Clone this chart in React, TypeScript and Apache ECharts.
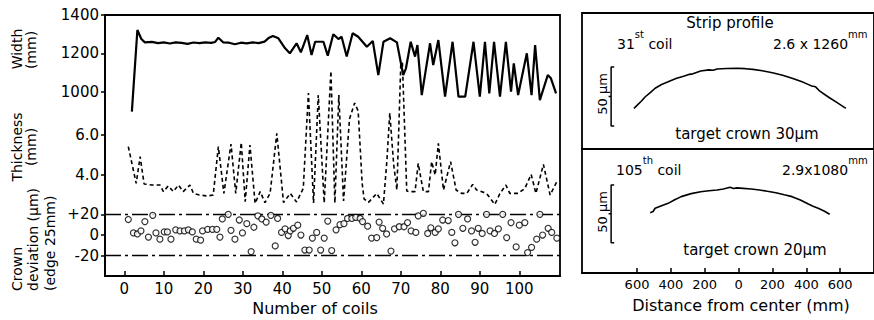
import React, { useEffect, useRef } from "react";
import * as echarts from "echarts";

// ---- Data ----
// Width (mm) vs coil number
const widthData: [number, number][] = [
  [1.9, 898], [3.3, 1322], [4.3, 1275], [5.2, 1258], [7, 1260], [8.5, 1254], [10, 1258], [11.5, 1252],
  [13, 1258], [14.5, 1255], [16, 1250], [17.5, 1257], [19, 1254], [20.5, 1258], [22, 1255], [23, 1260],
  [23.8, 1282], [25, 1258], [26.5, 1256], [28, 1248], [29.5, 1256], [31, 1253], [32.5, 1258], [34, 1254],
  [35.5, 1262], [36.5, 1280], [37.6, 1291], [39, 1279], [40.7, 1227], [41.9, 1201], [43.6, 1253], [44.7, 1206],
  [46.3, 1296], [47.4, 1192], [48.3, 1261], [50.4, 1261], [51.5, 1189], [52.9, 1300], [54.2, 1275], [55, 1287],
  [56.3, 1184], [57.8, 1305], [59.2, 1287], [61.4, 1235], [62.9, 1265], [64.3, 1088], [65.6, 1261], [67.3, 1279],
  [69, 1258], [70.6, 1088], [71.3, 1123], [72.5, 1261], [73.6, 1184], [74.2, 1244], [75.3, 984], [77.4, 1253],
  [78.2, 1140], [79.5, 1270], [81.2, 976], [83.1, 1261], [84.6, 976], [86.3, 976], [88.4, 1261], [90, 976],
  [91.3, 1261], [92.4, 993], [93.6, 1261], [95.1, 976], [96.6, 1261], [97.9, 1002], [98.6, 1149], [99.7, 984],
  [101.9, 1201], [103.1, 984], [104, 1244], [105.2, 958], [107.2, 1088], [108, 1071], [109.3, 993],
];

// Thickness (mm) vs coil number
const thicknessData: [number, number][] = [
  [1.0, 5.42], [3.0, 3.58], [4.0, 4.92], [5.0, 3.55], [7, 3.5], [9, 3.5], [9.9, 3.17], [11.1, 3.45],
  [12.4, 3.17], [13.7, 3.5], [14.9, 3.17], [16.6, 3.5], [17.5, 3.08], [19, 3.0], [21, 2.95], [22.5, 3.0],
  [23.8, 5.42], [25.2, 3.08], [27, 5.55], [28.2, 3.08], [29.6, 5.62], [30.6, 2.67], [31.8, 5.5], [33.1, 2.58],
  [34.4, 3.17], [35.6, 2.62], [36.9, 3.08], [38.6, 6.08], [40.3, 2.62], [42, 3.08], [43.6, 2.65], [45.3, 3.33],
  [46.6, 8.1], [47.9, 2.6], [49.1, 8.0], [50.6, 2.6], [52.3, 9.2], [53.3, 2.6], [54.3, 8.0], [55.5, 2.7],
  [57, 6.8], [58.3, 7.6], [59.2, 7.2], [60.2, 3.6], [60.7, 2.8], [61.8, 2.63], [63.9, 3.08], [65.6, 2.55],
  [66.5, 4.8], [67.2, 7.1], [68.2, 4.5], [69, 3.25], [70, 9.6], [70.4, 9.6], [71.5, 3.2], [72.1, 3.17],
  [73.6, 3.17], [74.4, 4.58], [75.7, 3.17], [77, 3.17], [77.8, 4.67], [78.7, 4.0], [79.5, 5.58], [80.8, 3.25],
  [82.6, 4.67], [84, 3.25], [85.4, 3.08], [86.7, 3.08], [88.2, 3.53], [89.2, 3.25], [91.7, 3.08], [93.8, 2.53],
  [95.1, 3.08], [96.6, 3.5], [97.6, 3.08], [99.7, 3.08], [101.4, 3.33], [103, 4.03], [104.2, 3.08], [106.1, 4.53],
  [107.8, 3.0], [109.5, 3.67],
];

// Crown deviation (µm) vs coil number
const crownData: [number, number][] = [
  [1.0, 15], [2.3, 2], [3.3, 1], [4.2, 4], [5.2, 13], [6.1, -2], [7.2, 19], [8.0, 2], [9.0, -4], [10.1, 3],
  [10.9, 3], [11.8, -4], [13.0, 5], [14.1, 4], [15.2, 4], [16.2, 5], [17.2, 3], [18.2, -4], [19.3, -5], [19.8, 4],
  [21.1, 5.5], [22.3, 5.5], [23.4, 5.5], [24.2, -2], [24.8, 15.5], [26.3, 20], [27.0, 4.5], [28.0, -4], [29.1, 14.5],
  [29.9, 2], [31.0, 11], [32.1, -16], [32.8, 7.5], [33.8, 18.5], [34.8, 15.5], [35.9, 12.5], [37.1, 19], [38.2, -10.5],
  [38.8, 16], [39.8, 2.5], [40.7, 6], [41.5, -0.5], [42.0, 4], [42.8, 6.5], [43.9, 9.5], [44.7, 0], [45.7, -14.5],
  [46.8, -14.5], [47.6, -3], [48.7, 2.5], [49.7, -14.5], [50.6, -3], [51.5, 13.5], [52.5, -15], [53.6, 5], [54.6, 10],
  [55.6, 11], [56.5, 16], [57.6, 16], [58.6, 17], [59.7, 16], [60.3, 13], [61.6, 8.5], [62.6, -3], [63.9, -2.5],
  [64.5, 12.5], [65.4, 6.5], [66.4, 1], [67.5, -15.5], [68.4, 6], [69.6, 8], [70.8, 8], [71.7, 12], [72.6, 4],
  [73.8, 2.5], [74.4, 18.5], [75.7, 21], [76.8, 1.5], [77.6, 7], [78.7, 2.5], [79.5, 6], [80.6, 14.5], [82.0, 14],
  [82.9, 2.5], [83.7, -7.5], [84.6, 20], [85.7, 6.5], [86.9, 15.5], [87.9, 4], [88.8, -7], [89.6, 6.5], [90.6, 1.5],
  [91.7, 20], [92.6, 4], [93.7, 1.5], [94.7, 6], [95.8, 20], [96.8, -2.5], [97.9, 12], [99.2, -11.5], [100, 9.5],
  [101.4, 12], [102.1, -17], [103.1, -12], [104.4, -4], [105.2, 20], [105.9, 0], [107.3, 6.5], [108.2, 2.5], [109.5, -3],
];

// Strip profiles: distance from center (mm), profile height (µm)
const profile31: [number, number][] = [
  [-618, 15], [-600, 17.5], [-575, 21], [-551, 24.8], [-520, 28.5], [-493, 32], [-455, 35.2], [-416, 37.5],
  [-370, 40.2], [-320, 42.4], [-290, 43.8], [-270, 44.2], [-224, 46.6], [-175, 47.6], [-150, 47.3], [-127, 48.3],
  [-70, 48.8], [-12, 48.9], [40, 48.6], [85, 48], [140, 46.8], [200, 45.2], [260, 43], [316, 40.4],
  [375, 37.5], [410, 35.3], [432, 33.9], [455, 33.2], [480, 29.5], [528, 24.8], [580, 20], [634, 15],
];
const profile105: [number, number][] = [
  [-522, 26], [-505, 27], [-493, 29.8], [-455, 32], [-416, 34.1], [-380, 37], [-339, 39.9], [-280, 42.5],
  [-224, 44.2], [-175, 45], [-127, 45.7], [-90, 46.5], [-50, 48], [-30, 47], [-10, 47.5], [27, 47.1],
  [75, 46.5], [123, 45.7], [170, 44.5], [220, 43.3], [270, 41.5], [316, 39.9], [365, 37], [412, 33.5],
  [440, 31.5], [470, 29.8], [505, 27.5], [538, 24.6],
];

// 50 µm scale bars (distance mm, µm)
const scaleBarTop: [number, number][] = [[-735, 50], [-753, 50], [-753, 25], [-768, 25], [-753, 25], [-753, 0], [-735, 0]];
const scaleBarBottom: [number, number][] = [[-735, 50], [-753, 50], [-753, 25], [-768, 25], [-753, 25], [-753, 0], [-735, 0]];

// Ticks
const coilTicks = [0, 10, 20, 30, 40, 50, 60, 70, 80, 90, 100];
const widthTicks = [1000, 1200, 1400];
const thicknessTicks = [4, 6];
const crownTicks = [-20, 0, 20];
const distanceTicks = [-600, -400, -200, 0, 200, 400, 600];
const crownLimits = [20, -20];

const FONT = "DejaVu Sans";

export default function App() {
  const ref = useRef<HTMLDivElement>(null);
  useEffect(() => {
    if (!ref.current) return;
    const chart = echarts.init(ref.current, null, { renderer: "svg" });
    const L = { left: 105, top: 15, width: 455, height: 261 };
    const black = "#000";
    const hiddenX = (gi: number, min: number, max: number) => ({
      type: "value", gridIndex: gi, min, max, show: false,
    });
    const textStyle = (size: number) => ({ fill: black, font: `${size}px "${FONT}"` });
    const rich = (size: number) => ({
      a: { fontSize: size, fontFamily: FONT, color: black, lineHeight: 22, verticalAlign: "bottom" },
      s: { fontSize: 10, fontFamily: FONT, color: black, lineHeight: 10, verticalAlign: "top" },
    });
    chart.setOption({
      animation: false,
      backgroundColor: "#fff",
      textStyle: { fontFamily: FONT, color: black },
      grid: [
        { ...L, show: true, borderColor: black, borderWidth: 1.8, backgroundColor: "transparent" },
        { ...L },
        { ...L },
        { left: 582, top: 13, width: 298, height: 136, show: true, borderColor: black, borderWidth: 1.8 },
        { left: 582, top: 149, width: 298, height: 124, show: true, borderColor: black, borderWidth: 1.8 },
      ],
      xAxis: [
        hiddenX(0, -4.9, 110.3),
        hiddenX(1, -4.9, 110.3),
        {
          type: "value", gridIndex: 2, min: -4.9, max: 110.3,
          axisLine: { show: true, onZero: false, lineStyle: { color: black, width: 1.8 } },
          axisTick: { show: true, inside: true, length: 5, customValues: coilTicks, lineStyle: { color: black, width: 1.5 } },
          axisLabel: { show: true, customValues: coilTicks, fontSize: 15, color: black, margin: 5, fontFamily: FONT },
          splitLine: { show: false },
        },
        hiddenX(3, -925, 800),
        {
          type: "value", gridIndex: 4, min: -925, max: 800,
          axisLine: { show: true, onZero: false, lineStyle: { color: black, width: 1.8 } },
          axisTick: { show: true, inside: true, length: 5, customValues: distanceTicks, lineStyle: { color: black, width: 1.5 } },
          axisLabel: {
            show: true, customValues: distanceTicks, fontSize: 13, color: black, margin: 5, fontFamily: FONT,
            formatter: (v: number) => String(Math.abs(v)),
          },
          splitLine: { show: false },
        },
      ],
      yAxis: [
        {
          type: "value", gridIndex: 0, min: 44, max: 1400,
          axisLine: { show: true, onZero: false, lineStyle: { color: black, width: 1.8 } },
          axisTick: { show: true, length: 4, customValues: widthTicks, lineStyle: { color: black, width: 1.5 } },
          axisLabel: {
            show: true, customValues: widthTicks, fontSize: 15, color: black, margin: 6, fontFamily: FONT,
            formatter: (v: number) => String(v),
          },
          splitLine: { show: false },
        },
        {
          type: "value", gridIndex: 1, min: -1.05, max: 12,
          axisLine: { show: false, onZero: false },
          axisTick: { show: true, length: 4, customValues: thicknessTicks, lineStyle: { color: black, width: 1.5 } },
          axisLabel: {
            show: true, customValues: thicknessTicks, fontSize: 15, color: black, margin: 6, fontFamily: FONT,
            formatter: (v: number) => v.toFixed(1),
          },
          splitLine: { show: false },
        },
        {
          type: "value", gridIndex: 2, min: -39.6, max: 212.6,
          axisLine: { show: false, onZero: false },
          axisTick: { show: true, length: 4, customValues: crownTicks, lineStyle: { color: black, width: 1.5 } },
          axisLabel: {
            show: true, customValues: crownTicks, fontSize: 15, color: black, margin: 6, fontFamily: FONT,
            formatter: (v: number) => (v > 0 ? "+" + v : String(v)),
          },
          splitLine: { show: false },
        },
        { type: "value", gridIndex: 3, min: -19.5, max: 95.8, show: false },
        { type: "value", gridIndex: 4, min: -26.3, max: 81.2, show: false },
      ],
      series: [
        {
          type: "line", xAxisIndex: 0, yAxisIndex: 0, data: widthData, showSymbol: false, symbol: "none",
          lineStyle: { color: black, width: 2.2 }, z: 4,
        },
        {
          type: "line", xAxisIndex: 1, yAxisIndex: 1, data: thicknessData, showSymbol: false, symbol: "none",
          lineStyle: { color: black, width: 1.6, type: [4, 3] }, z: 3,
        },
        {
          type: "scatter", xAxisIndex: 2, yAxisIndex: 2, data: crownData, symbol: "circle", symbolSize: 6,
          itemStyle: { color: "#fff", borderColor: black, borderWidth: 1.2 }, z: 5,
          markLine: {
            silent: true, symbol: "none", label: { show: false },
            lineStyle: { color: black, width: 1.3, type: [16, 4, 3, 4] },
            data: crownLimits.map((v) => ({ yAxis: v })),
          },
        },
        {
          type: "line", xAxisIndex: 3, yAxisIndex: 3, data: profile31, showSymbol: false, symbol: "none",
          lineStyle: { color: black, width: 1.6 },
        },
        {
          type: "line", xAxisIndex: 3, yAxisIndex: 3, data: scaleBarTop, showSymbol: false, symbol: "none",
          lineStyle: { color: black, width: 1.5 },
        },
        {
          type: "line", xAxisIndex: 4, yAxisIndex: 4, data: profile105, showSymbol: false, symbol: "none",
          lineStyle: { color: black, width: 1.6 },
        },
        {
          type: "line", xAxisIndex: 4, yAxisIndex: 4, data: scaleBarBottom, showSymbol: false, symbol: "none",
          lineStyle: { color: black, width: 1.5 },
        },
      ],
      graphic: [
        // Left axis titles
        { type: "text", x: 17, y: 49, rotation: Math.PI / 2, style: { text: "Width", ...textStyle(14), textAlign: "center", textVerticalAlign: "middle" } },
        { type: "text", x: 31, y: 50, rotation: Math.PI / 2, style: { text: "(mm)", ...textStyle(14), textAlign: "center", textVerticalAlign: "middle" } },
        { type: "text", x: 17, y: 147, rotation: Math.PI / 2, style: { text: "Thickness", ...textStyle(14), textAlign: "center", textVerticalAlign: "middle" } },
        { type: "text", x: 31, y: 147, rotation: Math.PI / 2, style: { text: "(mm)", ...textStyle(14), textAlign: "center", textVerticalAlign: "middle" } },
        { type: "text", x: 17, y: 291, rotation: Math.PI / 2, style: { text: "Crown", ...textStyle(14), textAlign: "left", textVerticalAlign: "middle" } },
        { type: "text", x: 33, y: 291, rotation: Math.PI / 2, style: { text: "deviation (µm)", ...textStyle(14), textAlign: "left", textVerticalAlign: "middle" } },
        { type: "text", x: 50, y: 291, rotation: Math.PI / 2, style: { text: "(edge 25mm)", ...textStyle(14), textAlign: "left", textVerticalAlign: "middle" } },
        // Bottom axis titles
        { type: "text", x: 315, y: 308, style: { text: "Number of coils", ...textStyle(16), textAlign: "center", textVerticalAlign: "middle" } },
        { type: "text", x: 741, y: 305, style: { text: "Distance from center (mm)", ...textStyle(16), textAlign: "center", textVerticalAlign: "middle" } },
        // Right panel texts
        { type: "text", x: 730, y: 23, style: { text: "Strip profile", ...textStyle(15), textAlign: "center", textVerticalAlign: "middle" } },
        { type: "text", x: 617, y: 40, style: { text: "{a|31}{s|st}{a| coil}", rich: rich(14), textAlign: "left", textVerticalAlign: "middle" } },
        { type: "text", x: 773, y: 40, style: { text: "{a|2.6 x 1260}{s|mm}", rich: rich(14), textAlign: "left", textVerticalAlign: "middle" } },
        { type: "text", x: 747, y: 134, style: { text: "target crown 30µm", ...textStyle(15), textAlign: "center", textVerticalAlign: "middle" } },
        { type: "text", x: 616, y: 166, style: { text: "{a|105}{s|th}{a| coil}", rich: rich(14), textAlign: "left", textVerticalAlign: "middle" } },
        { type: "text", x: 782, y: 166, style: { text: "{a|2.9x1080}{s|mm}", rich: rich(14), textAlign: "left", textVerticalAlign: "middle" } },
        { type: "text", x: 755, y: 250, style: { text: "target crown 20µm", ...textStyle(15), textAlign: "center", textVerticalAlign: "middle" } },
        // Scale bar labels
        { type: "text", x: 602, y: 94, rotation: Math.PI / 2, style: { text: "50 µm", ...textStyle(13), textAlign: "center", textVerticalAlign: "middle" } },
        { type: "text", x: 602, y: 212, rotation: Math.PI / 2, style: { text: "50 µm", ...textStyle(13), textAlign: "center", textVerticalAlign: "middle" } },
      ],
    });
    return () => chart.dispose();
  }, []);
  return (
    <div
      ref={ref}
      style={{ position: "fixed", left: 0, top: 0, width: 874, height: 320, background: "#fff" }}
    />
  );
}
